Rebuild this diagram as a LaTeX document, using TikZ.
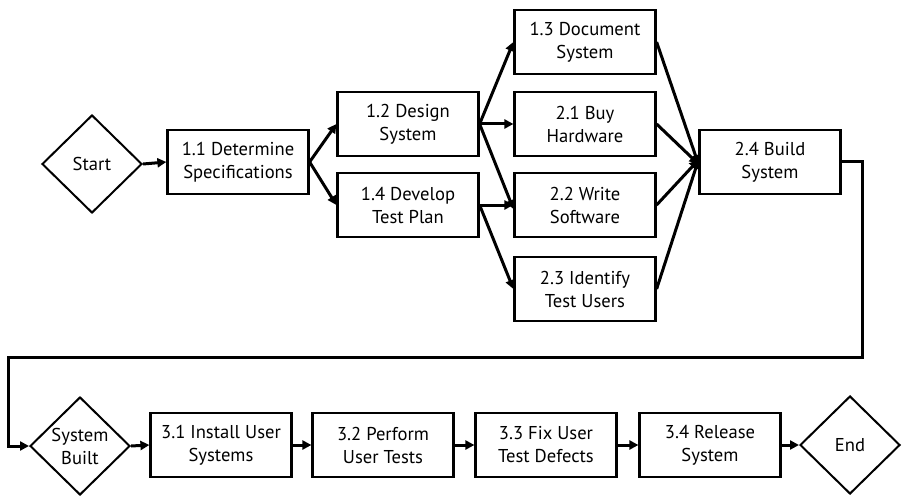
\documentclass[tikz,border=0pt]{standalone}
\usepackage{fontspec}
\setmainfont{PT Sans}
\usetikzlibrary{arrows.meta, shapes.geometric}

\begin{document}
\begin{tikzpicture}[x=1pt, y=-1pt, font=\fontsize{18.6}{23}\selectfont,
    task/.style={draw, line width=2.2pt, minimum width=141pt, minimum height=64pt,
      align=center, inner sep=2pt},
    gate/.style={draw, diamond, line width=2pt, minimum width=100pt, minimum height=98pt,
      inner sep=0pt, align=center},
    flow/.style={line width=3pt, -{Triangle[length=9pt, width=9pt]}}]
    \useasboundingbox (0,0) rectangle (904,497);

    % phase 1: specify and design
    \node[gate] (start) at (92,164) {Start};
    \node[task] (spec) at (238,162) {1.1 Determine\\Specifications};
    \node[task] (design) at (408,124) {1.2 Design\\System};
    \node[task] (testplan) at (408,205) {1.4 Develop\\Test Plan};

    % phase 2: parallel work feeding the build
    \node[task] (doc) at (585,42) {1.3 Document\\System};
    \node[task] (hardware) at (585,124) {2.1 Buy\\Hardware};
    \node[task] (software) at (585,205) {2.2 Write\\Software};
    \node[task] (users) at (585,289) {2.3 Identify\\Test Users};
    \node[task] (build) at (770,162) {2.4 Build\\System};

    % phase 3: test and release
    \node[gate] (built) at (80,446) {System\\Built};
    \node[task] (install) at (221,445) {3.1 Install User\\Systems};
    \node[task] (perform) at (383,445) {3.2 Perform\\User Tests};
    \node[task] (fix) at (546,445) {3.3 Fix User\\Test Defects};
    \node[task] (release) at (710,445) {3.4 Release\\System};
    \node[gate] (finish) at (850,445) {End};

    % connectors
    \draw[flow] (start.east) -- (spec.west);
    \draw[flow] (spec.east) -- (design.west);
    \draw[flow] (spec.east) -- (testplan.west);
    \draw[flow] (design.east) -- (doc.west);
    \draw[flow] (design.east) -- (hardware.west);
    \draw[flow] (design.east) -- ([yshift=-4pt]software.west);
    \draw[flow] (testplan.east) -- (software.west);
    \draw[flow] (testplan.east) -- (users.west);
    \draw[flow] (doc.east) -- ([yshift=-2pt]build.west);
    \draw[flow] (hardware.east) -- ([yshift=-2pt]build.west);
    \draw[flow] (software.east) -- ([yshift=2pt]build.west);
    \draw[flow] (users.east) -- ([yshift=2pt]build.west);

    % wrap-around into the test phase
    \coordinate (loopR) at (862,357);
    \coordinate (loopL) at (8,357);
    \draw[flow] (build.east) -| (loopR) -- (loopL) |- (built.west);

    \draw[flow] (built.east) -- (install.west);
    \draw[flow] (install.east) -- (perform.west);
    \draw[flow] (perform.east) -- (fix.west);
    \draw[flow] (fix.east) -- (release.west);
    \draw[flow] (release.east) -- (finish.west);
\end{tikzpicture}
\end{document}
